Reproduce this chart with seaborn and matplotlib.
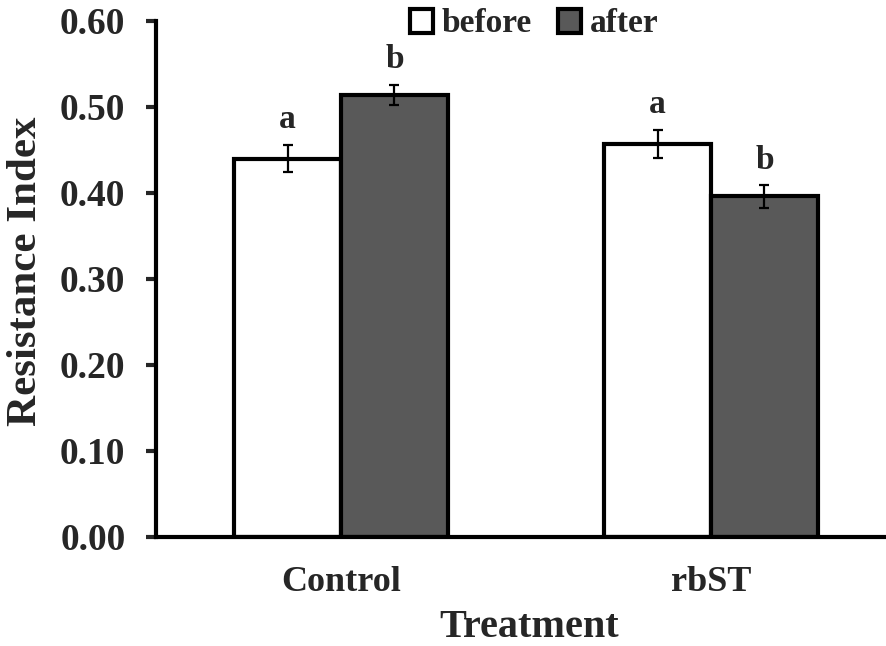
import matplotlib
matplotlib.use("Agg")
import matplotlib.pyplot as plt
import seaborn as sns
import pandas as pd
from matplotlib.patches import Patch

categories = ["Control", "rbST"]
groups = ["before", "after"]
before_vals = [0.440, 0.457]
after_vals = [0.514, 0.396]
before_err = [0.016, 0.016]
after_err = [0.012, 0.013]
before_letters = ["a", "a"]
after_letters = ["b", "b"]
yticks = [0.0, 0.1, 0.2, 0.3, 0.4, 0.5, 0.6]

sns.set_style("white")
plt.rcParams["font.family"] = ["Liberation Serif", "DejaVu Serif"]
plt.rcParams["font.weight"] = "bold"

df = pd.DataFrame({
    "Treatment": categories * 2,
    "Time": [groups[0]] * 2 + [groups[1]] * 2,
    "Index": before_vals + after_vals,
})

fig = plt.figure(figsize=(8.87, 6.46), dpi=100)
ax = fig.add_axes([156 / 887, 109 / 646, 740 / 887, 516 / 646])

palette = {"before": "#FFFFFF", "after": "#595959"}
sns.barplot(data=df, x="Treatment", y="Index", hue="Time", hue_order=groups,
            palette=palette, edgecolor="black", linewidth=3, width=0.578,
            errorbar=None, ax=ax, legend=False, saturation=1)

errs = [before_err, after_err]
letters = [before_letters, after_letters]
vals = [before_vals, after_vals]
for ci, cont in enumerate(ax.containers[:2]):
    for bi, bar in enumerate(cont):
        xc = bar.get_x() + bar.get_width() / 2
        ax.errorbar(xc, vals[ci][bi], yerr=errs[ci][bi], fmt="none",
                    ecolor="black", elinewidth=1.6, capsize=3.5, capthick=1.6,
                    zorder=5)
        ax.annotate(letters[ci][bi], (xc, vals[ci][bi] + errs[ci][bi]),
                    xytext=(0, 7), textcoords="offset points",
                    ha="center", va="bottom", fontsize=24, fontweight="bold")

ax.set_xlim(-0.5, 1.5)
ax.set_ylim(0, 0.6)
ax.set_yticks(yticks)
ax.set_yticklabels([f"{v:.2f}" for v in yticks], fontsize=27, fontweight="bold")
ax.set_xticklabels(categories, fontsize=26, fontweight="bold")
ax.tick_params(axis="y", direction="out", length=7, width=3, pad=15, left=True)
ax.tick_params(axis="x", length=0, pad=21)

for s in ["top", "right"]:
    ax.spines[s].set_visible(False)
for s in ["left", "bottom"]:
    ax.spines[s].set_linewidth(3)
    ax.spines[s].set_color("black")

ax.set_ylabel("Resistance Index", fontsize=31, fontweight="bold")
ax.set_xlabel("Treatment", fontsize=29, fontweight="bold")
ax.yaxis.set_label_coords((46 - 157) / 740, 0.515)
ax.xaxis.set_label_coords((530 - 157) / 740, -72 / 516)

handles = [Patch(facecolor=palette[g], edgecolor="black", linewidth=3) for g in groups]
leg = ax.legend(handles, groups, loc="center", bbox_to_anchor=((535 - 157) / 740, (537 - 24) / 516),
                ncol=2, frameon=False, handlelength=0.7, handleheight=0.7,
                handletextpad=0.25, columnspacing=0.8, prop={"weight": "bold", "size": 24})

fig.savefig("out.png", dpi=100)
